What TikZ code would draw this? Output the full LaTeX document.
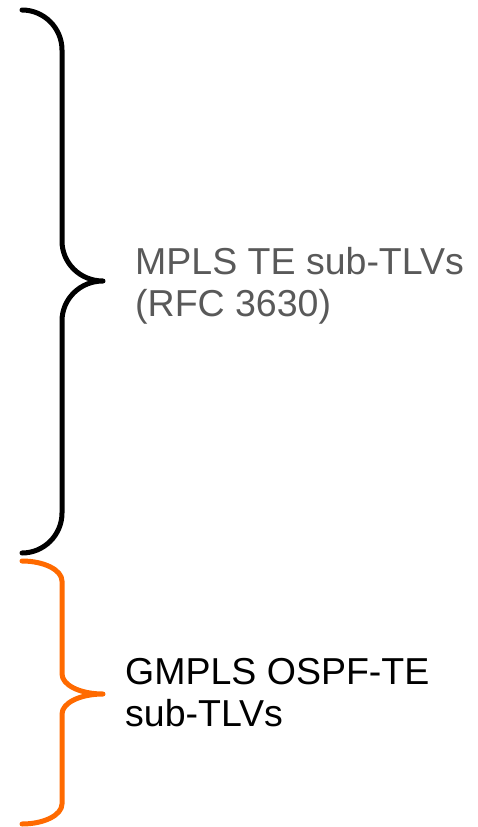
\documentclass[tikz,border=0pt]{standalone}
\usepackage{fontspec}
\setmainfont{Liberation Sans}
\usepackage{xcolor}
\usepackage{tikz}
\usetikzlibrary{positioning}
\definecolor{bracek}{HTML}{000000}
\definecolor{braceo}{HTML}{FF6A00}
\definecolor{txtgray}{HTML}{595959}
\tikzset{
  brc/.style={line width=5pt,line cap=round,line join=round},
  lbl/.style={anchor=base west,inner sep=0pt,align=left,font=\fontsize{37.5}{42}\selectfont}
}
% #1 colour, #2 top, #3 tip, #4 bottom, #5 corner radius
\newcommand{\curly}[5]{%
  \draw[brc,#1] (22,#2) .. controls (44,#2) and (62,{#2+0.45*#5}) .. (62,{#2+#5})
    -- (62,{#3-#5}) .. controls (62,{#3-0.45*#5}) and (80,#3) .. (103,#3)
    .. controls (80,#3) and (62,{#3+0.45*#5}) .. (62,{#3+#5})
    -- (62,{#4-#5}) .. controls (62,{#4-0.45*#5}) and (44,#4) .. (22,#4);
}

\begin{document}
\begin{tikzpicture}[x=1pt,y=-1pt]
\useasboundingbox (0,0) rectangle (478,827);
\curly{bracek}{10}{281}{553}{40}
\curly{braceo}{561}{694}{824}{20}
% base anchor sits on the last line
\node[lbl,txtgray] (mpls) at (135,316) {MPLS TE sub-TLVs\\(RFC 3630)};
\node[lbl,black] (gmpls) at (125,726) {GMPLS OSPF-TE\\sub-TLVs};
\end{tikzpicture}
\end{document}
